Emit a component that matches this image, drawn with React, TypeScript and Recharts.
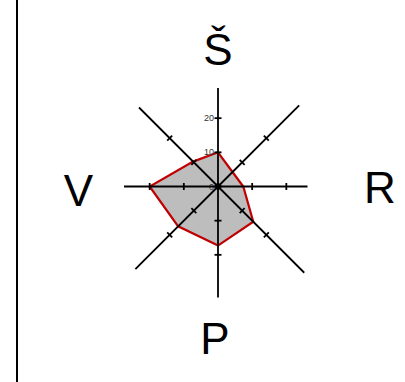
import { RadarChart, Radar, PolarAngleAxis, PolarRadiusAxis } from 'recharts'

// eight directions, clockwise from the top
const directions = ['Š', 'Š-R', 'R', 'R-P', 'P', 'P-V', 'V', 'V-Š']
const directionLabels = ['Š', '', 'R', '', 'P', '', 'V', '']
const values = [10, 6, 7.4, 14.6, 17.3, 16.5, 20, 10.3]

// every spoke is its own radius axis, each a different length
const axisAngles = [90, 45, 0, -45, -90, -135, 180, 135]
const axisEnds = [28.8, 33.6, 26.2, 35.7, 32.5, 34.2, 27.5, 32.7]
const radiusTicks = [0, 10, 20]
const radiusDomain = [0, 36]

const data = directions.map((name, i) => ({ name, value: values[i] }))

const FONT = '"Liberation Sans", Arial, sans-serif'

// small nudges so the big letters sit where the original has them
const labelOffsets: Record<string, [number, number]> = {
  'Š': [0, 9.5],
  R: [15, 16.5],
  P: [-3, 36.5],
  V: [6, 19.5],
}

function makeRadiusTick(angle: number, showLabels: boolean) {
  return (props: any) => {
    const { x, y, payload } = props
    if (!radiusTicks.includes(payload.value)) return <g />
    const rad = (angle * Math.PI) / 180
    const px = Math.sin(rad) * 3.5
    const py = Math.cos(rad) * 3.5
    return (
      <g>
        <line x1={x - px} y1={y - py} x2={x + px} y2={y + py} stroke="#000" strokeWidth={1.8} />
        {showLabels && (
          <text
            x={x - 4}
            y={y}
            textAnchor="end"
            dominantBaseline="central"
            fontSize={9}
            fontFamily={FONT}
            fill="#333"
          >
            {payload.value}
          </text>
        )}
      </g>
    )
  }
}

function AngleTick(props: any) {
  const { x, y, index, textAnchor } = props
  const label = directionLabels[index]
  if (!label) return <g />
  const [dx, dy] = labelOffsets[label] || [0, 0]
  return (
    <text x={x + dx} y={y + dy} textAnchor={textAnchor} fontSize={44} fontFamily={FONT} fill="#000">
      {label}
    </text>
  )
}

export default function App() {
  return (
    <div style={{ position: 'absolute', left: 0, top: 0, width: 405, height: 382, background: '#fff' }}>
      <div style={{ position: 'absolute', left: 16, top: 0, width: 2, height: 382, background: '#000' }} />
      <div style={{ position: 'absolute', left: 0, top: 0 }}>
        <RadarChart width={405} height={382} data={data} cx={218} cy={186.5} outerRadius={123}>
          <Radar
            dataKey="value"
            fill="#bdbdbd"
            fillOpacity={1}
            stroke="#c00000"
            strokeWidth={2.2}
            dot={false}
            isAnimationActive={false}
          />
          {axisAngles.map((angle, i) => (
            <PolarRadiusAxis
              key={i}
              radiusAxisId={i}
              type="number"
              angle={angle}
              domain={radiusDomain}
              ticks={[...radiusTicks, axisEnds[i]]}
              allowDataOverflow
              stroke="#000"
              axisLine={{ stroke: '#000', strokeWidth: 1.8 }}
              tick={makeRadiusTick(angle, i === 0)}
            />
          ))}
          <PolarAngleAxis dataKey="name" axisLine={false} tickLine={false} tick={AngleTick} />
        </RadarChart>
      </div>
    </div>
  )
}
